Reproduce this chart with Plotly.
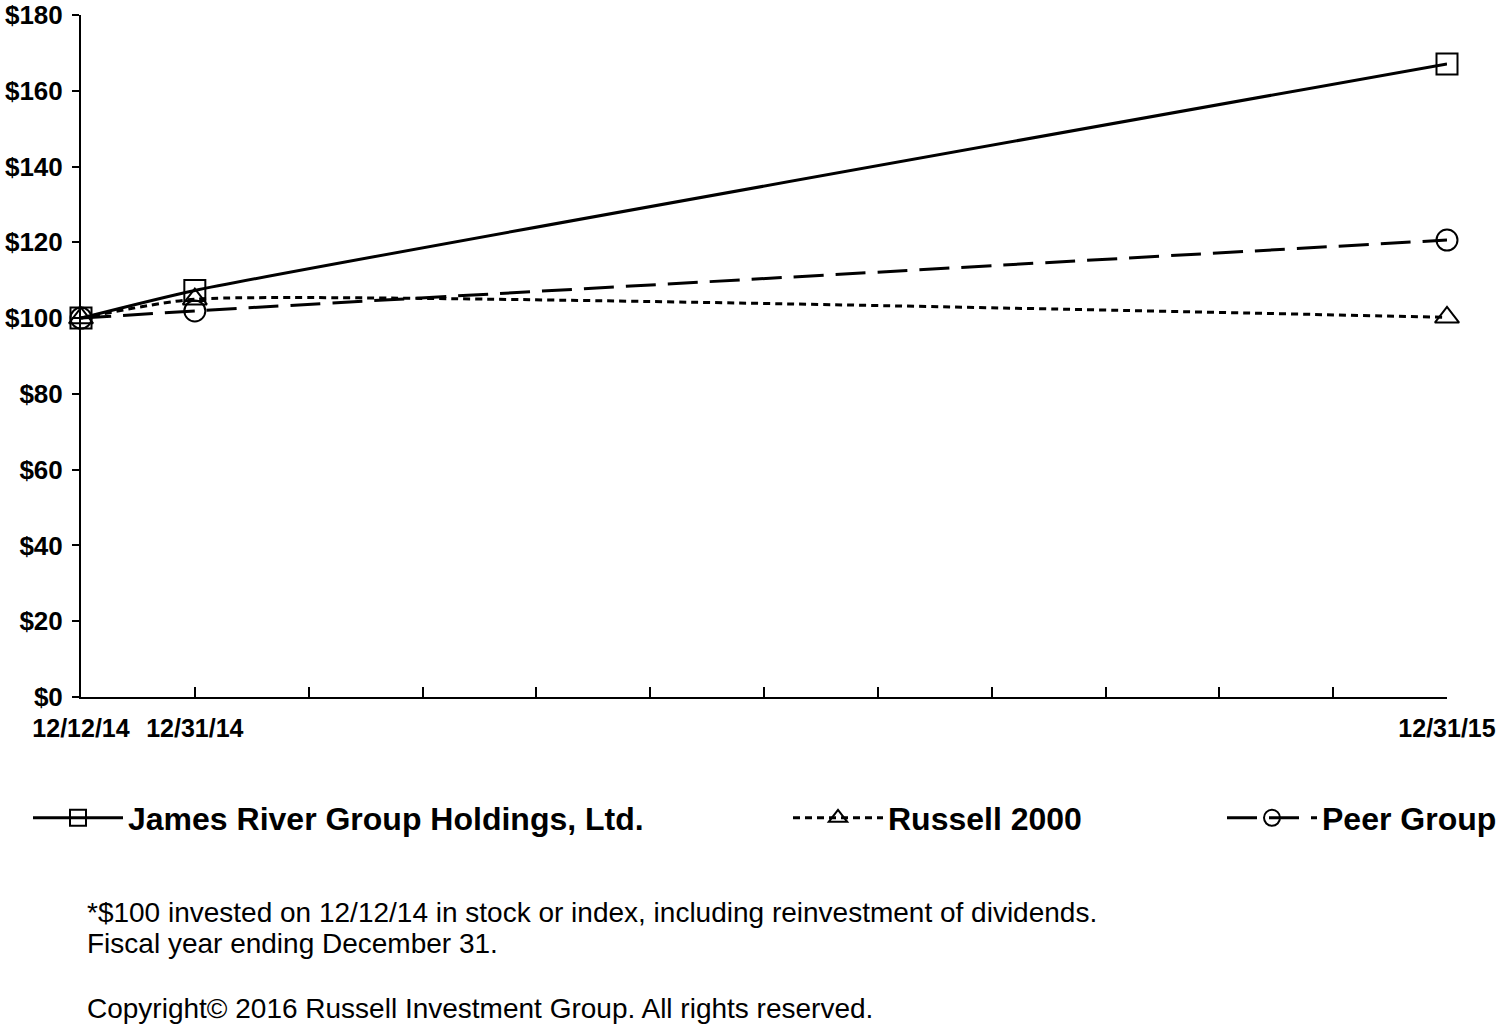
import plotly.graph_objects as go

period_labels = ["12/12/14", "12/31/14", "", "", "", "", "", "", "", "", "", "", "12/31/15"]
james_river = [100, 107.3, None, None, None, None, None, None, None, None, None, None, 167.1]
russell_2000 = [100, 105.0, None, None, None, None, None, None, None, None, None, None, 100.2]
peer_group = [100, 101.9, None, None, None, None, None, None, None, None, None, None, 120.6]
y_ticks = [0, 20, 40, 60, 80, 100, 120, 140, 160, 180]
y_tick_labels = ["$" + str(v) for v in y_ticks]

FONT = "Liberation Sans, Arial, sans-serif"
xs = list(range(len(period_labels)))

fig = go.Figure()

def add(name, ys, dash, width, symbol, legend):
    fig.add_trace(go.Scatter(
        x=xs, y=ys, name=name, mode="lines+markers", connectgaps=True,
        line=dict(color="black", width=width, dash=dash, shape="spline", smoothing=0.5),
        marker=dict(symbol=symbol, size=21, color="black", line=dict(width=2, color="black")),
        cliponaxis=False, legend=legend,
    ))

add("James River Group Holdings, Ltd.", james_river, "solid", 3, "square-open", "legend")
add("Russell 2000", russell_2000, "7px,5px", 3, "triangle-up-open", "legend2")
add("Peer Group", peer_group, "30px,12px", 3, "circle-open", "legend3")

legend_common = dict(
    orientation="h", xref="container", yref="container", yanchor="middle", xanchor="left",
    font=dict(family=FONT, size=32, color="black", weight="bold"),
    itemwidth=90, bgcolor="rgba(0,0,0,0)", borderwidth=0, tracegroupgap=0,
)
leg_y = 1 - 818 / 1030

fig.update_layout(
    width=1500, height=1030,
    margin=dict(l=81, r=53, t=15, b=333),
    paper_bgcolor="white", plot_bgcolor="white",
    showlegend=True,
    legend=dict(x=28 / 1500, y=leg_y, **legend_common),
    legend2=dict(x=788 / 1500, y=leg_y, **legend_common),
    legend3=dict(x=1222 / 1500, y=leg_y, **legend_common),
    font=dict(family=FONT, color="black"),
)

fig.update_xaxes(
    range=[0, 12], tickmode="array", tickvals=xs, ticktext=period_labels,
    showgrid=False, zeroline=False, showline=True, linecolor="black", linewidth=2,
    ticks="inside", ticklen=10, tickwidth=1.5, tickcolor="black",
    tickfont=dict(family=FONT, size=25, color="black", weight="bold"),
    ticklabelstandoff=8, automargin=False,
)
fig.update_yaxes(
    range=[0, 180], tickmode="array", tickvals=y_ticks, ticktext=y_tick_labels,
    showgrid=False, zeroline=False, showline=True, linecolor="black", linewidth=2,
    ticks="outside", ticklen=7, tickwidth=1.5, tickcolor="black",
    tickfont=dict(family=FONT, size=26, color="black", weight="bold"),
    ticklabelstandoff=4, automargin=False,
)

notes = [
    ("*$100 invested on 12/12/14 in stock or index, including reinvestment of dividends.", 912),
    ("Fiscal year ending December 31.", 943),
    ("Copyright\u00a9 2016 Russell Investment Group. All rights reserved.", 1008),
]
for text, ypx in notes:
    fig.add_annotation(
        text=text, xref="paper", yref="paper",
        x=(85 - 81) / 1366, y=(697 - ypx) / 682, xanchor="left", yanchor="middle",
        showarrow=False, font=dict(family=FONT, size=28, color="black"),
    )

fig.write_html("out.html", config={"displayModeBar": False},
               post_script="document.body.style.margin='0';")
